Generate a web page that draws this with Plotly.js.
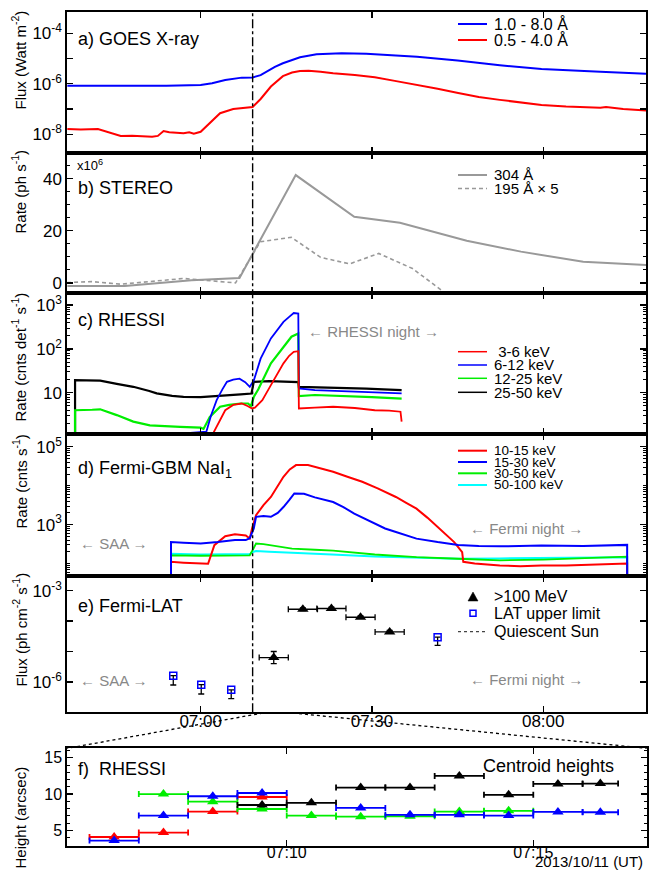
<!DOCTYPE html>
<html><head><meta charset="utf-8">
<script src="https://cdn.plot.ly/plotly-3.0.1.min.js"></script>
<style>html,body{margin:0;padding:0;background:#fff}#chart{width:650px;height:871px}</style>
</head><body><div id="chart"></div><script>
// ===== DATA (time = minutes after 07:00 UT, 2013/10/11) =====
// a) GOES X-ray
const tGoesLong = [-23.4,-18,-12,-6,-2,0,2,4.3,7.2,9.1,10.5,11.5,13,14.4,16,17.4,20.3,24.7,29,33,37.9,45,52.4,59.7,65,68.4,70,74,78];
const fGoesLong = [8.3e-7,8.1e-7,8.3e-7,8.3e-7,8.5e-7,8.9e-7,1.05e-6,1.4e-6,1.75e-6,1.78e-6,2.2e-6,3.0e-6,4.7e-6,6.5e-6,8.9e-6,1.12e-5,1.48e-5,1.62e-5,1.55e-5,1.38e-5,1.17e-5,8.3e-6,5.4e-6,3.8e-6,3.4e-6,3.3e-6,3.0e-6,2.7e-6,2.5e-6];
const tGoesShort = [-23.4,-21,-18,-17,-15.5,-14,-12,-10.5,-8.5,-7.5,-6.5,-5.5,-4,-3,-2,-1.2,0,1.6,3.4,5.7,7.5,9.1,10.5,12.3,14.4,16,17.4,18.9,21,23.2,27,30.5,34,37.9,41.5,45.1,48.7,52.4,56,59.7,64,68.4,70,71,74,78];
const fGoesShort = [1.6e-8,1.55e-8,1.6e-8,1.35e-8,1.05e-8,8.6e-9,8.8e-9,8.6e-9,8.0e-9,8.6e-9,1.35e-8,1.2e-8,1.15e-8,1.1e-8,1.2e-8,1.05e-8,1.25e-8,2.7e-8,6.8e-8,1.0e-7,1.12e-7,1.2e-7,2.5e-7,7.8e-7,2.0e-6,2.8e-6,3.2e-6,3.3e-6,3.0e-6,2.6e-6,2.2e-6,1.8e-6,1.3e-6,9.1e-7,6.3e-7,4.3e-7,3.0e-7,2.3e-7,1.8e-7,1.45e-7,1.26e-7,1.2e-7,1.12e-7,1.2e-7,1.0e-7,8.8e-8];

// b) STEREO (units of 1e6 ph/s)
const tS304 = [-23.4,-13.3,-1.6,6.8,16.65,26.9,34.9,46.6,56.1,67,78.7];
const rS304 = [-1.2,-1.2,1.0,1.9,41.4,25.4,23.1,16.2,12.0,8.1,6.8];
const tS195 = [-23.4,-19.1,-14,-3,6.1,10.45,15.9,21,26.1,31.2,37.1,42.9,48];
const rS195 = [0.1,0.5,-0.5,1.7,0.0,15.8,17.5,9.8,7.3,11.3,5.5,-4.0,-9];

// c) RHESSI (cnts/det/s)
const tRh2550 = [-22,-22,-20,-17.6,-14.7,-11.8,-9,-7.7,-5,-3,0,2.2,5,7,8.9,9.3,12,15,17.1,17.2,20,23,26,29,32,35.2];
const rRh2550 = [1.0,19.5,19.2,19.0,16,13.7,11,9.7,8.5,8.1,8.0,8.3,8.6,9.2,9.6,17.8,18.5,18,17.5,13.7,13.5,13.2,13,12.5,12,11.5];
const tRh1225 = [-22,-22,-19,-17.6,-14.7,-11.8,-8.9,-6,-3.6,0,0.5,1.6,3.4,5,7,8.3,8.8,9.3,10.1,12.3,14.5,15.9,17.1,17.2,20,25,30,35.2];
const rRh1225 = [0.5,4.0,4.1,4.2,3.1,2.2,1.8,1.7,1.67,1.6,1.5,2.8,4.8,5.3,5.7,5.7,5.0,8.0,12,47,112,190,225,8.4,8.9,8.5,8.0,7.4];
const tRh612 = [-20.6,-20.2,-19.8,1.0,1.8,2.8,3.8,4.6,5.7,6.8,7.8,8.6,9.3,10.5,12.3,13.5,14.5,15.5,16.3,17.1,17.2,20,25,30,35.2];
const rRh612 = [0.8,1.25,0.8,1.3,3.0,6.8,12,17.8,20,21,17.5,13.7,19,60,174,290,415,540,660,640,12.6,11.5,11,10.3,9.7];
const tRh36 = [1.5,2.2,3.4,4.3,5.7,7.2,8.2,9.0,9.5,10.8,12.3,13.5,14.5,15.5,16.3,17.1,17.2,20,23.2,27,30.5,33,35.0,35.2];
const rRh36 = [0.8,1.2,2.4,4.0,5.3,5.7,5.0,4.4,4.6,6.8,15,28,47,70,86,89,4.4,4.6,4.8,4.5,4.0,3.9,3.7,2.2];

// d) Fermi-GBM NaI1 (cnts/s)
const tGbm1015 = [-5.2,-5.2,-3,0,1.3,2.4,4.3,6,7.9,8.6,9.0,9.7,11,12.3,13.5,14.5,15.6,16.7,18.8,21,23.2,25.7,28.3,31,34.2,36,37.8,39.7,41.5,43,44.4,45.8,46.0,48,52.4,56,59.7,64,68,72,74.7,74.7];
const rGbm1015 = [25,110,105,100,98,295,500,560,525,440,790,1740,3160,5130,10000,17000,26300,33900,33900,28200,22900,17000,12600,8510,5130,3630,2570,1510,870,550,355,195,110,100,89,85,89,89,93,95,100,25];
const tGbm1530 = [-5.2,-5.2,-3,0,3,6,7.9,8.6,9.3,9.7,11,12.3,13.5,14.5,15.5,16.4,18.1,20,23.2,25,26.9,28.7,30.5,32.3,34.2,37.8,41.5,45.1,48.7,52.4,59.7,67,74.7,74.7];
const rGbm1530 = [25,355,340,325,355,400,400,445,795,1585,1660,1585,1995,2820,4270,6310,6170,5010,3800,2820,1905,1410,1070,795,645,435,355,300,280,275,290,280,300,25];
const tGbm3050 = [-5.2,-5.2,0,5,8.6,9.3,9.7,11,12.3,16,20,23.2,30.5,37.8,45.1,52.4,60,67,74.7,74.7];
const rGbm3050 = [25,162,158,162,162,250,325,315,295,240,225,215,170,145,132,120,126,138,150,25];
const tGbm50100 = [-5.2,-5.2,0,5,8.6,9.3,9.7,12,16,23,30.5,37.8,45.1,52.4,59.7,67,74.7,74.7];
const rGbm50100 = [25,178,170,174,174,200,209,200,186,170,151,141,132,135,138,141,145,25];

// e) Fermi-LAT (ph/cm2/s)
const tLat = [12.8,17.9,22.9,28.0,33.1];
const fLat = [6.3e-6,2.45e-4,2.6e-4,1.34e-4,4.4e-5];
const dtLat = [2.55,2.55,2.55,2.55,2.55];
const errUpLat = [3.7e-6,2.5e-5,2.7e-5,1.4e-5,5e-6];
const errDnLat = [2.3e-6,2.2e-5,2.4e-5,1.2e-5,4e-6];
const tUL = [-4.8,0.1,5.35,41.5];
const fUL = [1.6e-6,8.1e-7,5.5e-7,2.95e-5];
const dropUL = [8.1e-7,4.1e-7,2.7e-7,1.37e-5];
const quietSun = 4.7e-7;

// f) RHESSI centroid heights (arcsec); time = minutes after 07:00
const fRedT = [6.5,7.5,8.5,9.5];            const fRedH = [4.1,4.7,7.6,9.6];     const fRedDt = [0.5,0.5,0.5,0.5];
const fBlueT = [6.5,7.5,8.5,9.5,11.5,12.5,13.5,14.5,15.5,16.36];
const fBlueH = [3.6,7.05,9.7,10.15,8.1,7.15,7.15,7.05,7.55,7.5];
const fBlueDt = [0.5,0.5,0.5,0.5,0.5,0.5,0.5,0.5,0.5,0.36];
const fGreenT = [7.5,8.5,9.5,10.5,11.5,12.5,13.5,14.5];
const fGreenH = [10.0,8.95,7.95,7.05,6.9,6.95,7.6,7.7];
const fGreenDt = [0.5,0.5,0.5,0.5,0.5,0.5,0.5,0.5];
const fBlackT = [9.5,10.5,11.5,12.5,13.5,14.5,15.5,16.36];
const fBlackH = [8.5,8.8,10.9,10.9,12.5,9.9,11.4,11.45];
const fBlackDt = [0.5,0.5,0.5,0.5,0.5,0.5,0.5,0.36];

const markTime = 9.1;   // dash-dot reference time
const mainTicks = [0,30,60], mainTickText = ['07:00','07:30','08:00'];
const fTicks = [10,15], fTickText = ['07:10','07:15'];

// ===== LAYOUT HELPERS (pixel -> paper) =====
const W = 650, H = 871;
const P = x => x / W, Q = y => 1 - y / H;
const FONT = 'Liberation Sans, Arial, Helvetica, sans-serif';
const xr = [-23.36, 78.0];

function minorLog(lo, hi) { const v = []; for (let k = lo; k <= hi; k++) for (let m = 2; m <= 9; m++) v.push(m * Math.pow(10, k)); return v; }

const base = {showline:true, linewidth:2, linecolor:'#000', mirror:'allticks', ticks:'inside', ticklen:6, tickwidth:1.3, tickcolor:'#000', showgrid:false, zeroline:false, tickfont:{size:17, color:'#000'}, fixedrange:true};
function xa(dom, anchor, labels) {
  const o = Object.assign({}, base, {domain:dom, anchor:anchor, range:xr, tickmode:'array', tickvals:mainTicks, ticktext:mainTickText, showticklabels:labels});
  if (labels) o.ticklabelstandoff = -8;
  return o;
}
const xDom = [P(67.3), P(646)];
const decadeMinor = vals => ({ticks:'inside', ticklen:6, tickwidth:1.3, tickcolor:'#000', tickmode:'array', tickvals:vals, showgrid:false});

const traces = [];
function line(x, y, xa_, ya_, color, width, dash) {
  traces.push({x:x, y:y, xaxis:xa_, yaxis:ya_, type:'scatter', mode:'lines', line:{color:color, width:width, dash:dash||'solid'}, hoverinfo:'skip', showlegend:false});
}
// a
line(tGoesLong, fGoesLong, 'x', 'y', '#0000ff', 2);
line(tGoesShort, fGoesShort, 'x', 'y', '#ff0000', 2);
// b
line(tS304, rS304, 'x2', 'y2', '#999999', 2);
line(tS195, rS195, 'x2', 'y2', '#999999', 1.6, '4px,3px');
// c
line(tRh2550, rRh2550, 'x3', 'y3', '#000000', 2.2);
line(tRh1225, rRh1225, 'x3', 'y3', '#00ee00', 2.2);
line(tRh612, rRh612, 'x3', 'y3', '#0000ff', 1.8);
line(tRh36, rRh36, 'x3', 'y3', '#ff0000', 1.8);
// d
line(tGbm50100, rGbm50100, 'x4', 'y4', '#00ffff', 2);
line(tGbm3050, rGbm3050, 'x4', 'y4', '#00ee00', 1.8);
line(tGbm1015, rGbm1015, 'x4', 'y4', '#ff0000', 2);
line(tGbm1530, rGbm1530, 'x4', 'y4', '#0000ff', 2);
// e
traces.push({x:tLat, y:fLat, xaxis:'x5', yaxis:'y5', type:'scatter', mode:'markers', showlegend:false, hoverinfo:'skip',
  marker:{symbol:'triangle-up', size:10, color:'#000'},
  error_x:{type:'data', array:dtLat, color:'#000', thickness:1.3, width:3},
  error_y:{type:'data', symmetric:false, array:errUpLat, arrayminus:errDnLat, color:'#000', thickness:1.3, width:3}});
traces.push({x:tUL, y:fUL, xaxis:'x5', yaxis:'y5', type:'scatter', mode:'markers', showlegend:false, hoverinfo:'skip',
  marker:{symbol:'square-open', size:7, color:'#0000ff', line:{width:1.5, color:'#0000ff'}},
  error_y:{type:'data', symmetric:false, array:fUL.map(()=>0), arrayminus:dropUL, color:'#000', thickness:1.3, width:3}});
// f
function fTrace(t, h, dt, color) {
  traces.push({x:t, y:h, xaxis:'x6', yaxis:'y6', type:'scatter', mode:'markers', showlegend:false, hoverinfo:'skip',
    marker:{symbol:'triangle-up', size:10, color:color},
    error_x:{type:'data', array:dt, color:color, thickness:1.8, width:3}});
}
fTrace(fRedT, fRedH, fRedDt, '#ff0000');
fTrace(fGreenT, fGreenH, fGreenDt, '#00ee00');
fTrace(fBlackT, fBlackH, fBlackDt, '#000000');
fTrace(fBlueT, fBlueH, fBlueDt, '#0000ff');

const sup = s => '<sup>' + s + '</sup>';
const layout = {
  width:W, height:H, margin:{l:0, r:0, t:0, b:0}, paper_bgcolor:'#fff', plot_bgcolor:'#fff',
  font:{family:FONT, size:17, color:'#000'}, showlegend:false,
  xaxis: xa(xDom, 'y', false),
  xaxis2: xa(xDom, 'y2', false),
  xaxis3: xa(xDom, 'y3', false),
  xaxis4: xa(xDom, 'y4', false),
  xaxis5: xa(xDom, 'y5', true),
  xaxis6: Object.assign({}, base, {domain:[P(67.3), P(646.7)], anchor:'y6', range:[5.55, 17.3], tickmode:'array', tickvals:fTicks, ticktext:fTickText, tickfont:{size:16}, ticklabelstandoff:-9}),
  yaxis: Object.assign({}, base, {domain:[Q(152.7), Q(12.3)], anchor:'x', type:'log', range:[-8.73, -3.17], tickmode:'array',
    tickvals:[1e-8,1e-6,1e-4], ticktext:['10'+sup('-8'),'10'+sup('-6'),'10'+sup('-4')], minor:decadeMinor([1e-7,1e-5])}),
  yaxis2: Object.assign({}, base, {domain:[Q(293.3), Q(152.7)], anchor:'x2', range:[-4, 50], tickmode:'array', tickvals:[0,20,40],
    minor:{ticks:'inside', ticklen:3, tickwidth:1, tickcolor:'#000', dtick:5, showgrid:false}}),
  yaxis3: Object.assign({}, base, {domain:[Q(434), Q(293.3)], anchor:'x3', type:'log', range:[0.06, 3.27], tickmode:'array',
    tickvals:[10,100,1000], ticktext:['10','10'+sup('2'),'10'+sup('3')],
    minor:{ticks:'inside', ticklen:3, tickwidth:1, tickcolor:'#000', tickmode:'array', tickvals:minorLog(0,3), showgrid:false}}),
  yaxis4: Object.assign({}, base, {domain:[Q(575.5), Q(434)], anchor:'x4', type:'log', range:[1.69, 5.33], tickmode:'array',
    tickvals:[1000,100000], ticktext:['10'+sup('3'),'10'+sup('5')],
    minor:{ticks:'inside', ticklen:3, tickwidth:1, tickcolor:'#000', tickmode:'array', tickvals:minorLog(1,5).concat([100,10000]), showgrid:false}}),
  yaxis5: Object.assign({}, base, {domain:[Q(712.3), Q(575.5)], anchor:'x5', type:'log', range:[-7, -2.5], tickmode:'array',
    tickvals:[1e-6,1e-3], ticktext:['10'+sup('-6'),'10'+sup('-3')], minor:decadeMinor([1e-5,1e-4])}),
  yaxis6: Object.assign({}, base, {domain:[Q(845.7), Q(748.3)], anchor:'x6', range:[2.9, 16.3], tickmode:'array', tickvals:[5,10,15], tickfont:{size:16},
    minor:{ticks:'inside', ticklen:3, tickwidth:1, tickcolor:'#000', dtick:1, showgrid:false}}),
  shapes: [], annotations: []
};

const S = layout.shapes, A = layout.annotations;
// dash-dot flare marker across panels a-e
S.push({type:'line', xref:'x', yref:'paper', x0:markTime, x1:markTime, y0:Q(712.3), y1:Q(12.3), line:{color:'#000', width:1.4, dash:'dashdot'}});
// quiescent sun level
S.push({type:'line', xref:'x5 domain', yref:'y5', x0:0, x1:1, y0:Math.log10(quietSun), y1:Math.log10(quietSun), line:{color:'#444', width:1.3, dash:'dot'}});
// zoom connectors
S.push({type:'line', xref:'paper', yref:'paper', x0:P(263), y0:Q(713), x1:P(67.3), y1:Q(748.3), line:{color:'#000', width:1.3, dash:'dot'}});
S.push({type:'line', xref:'paper', yref:'paper', x0:P(293), y0:Q(713), x1:P(646.7), y1:Q(748.3), line:{color:'#000', width:1.3, dash:'dot'}});

function legLine(y, color, width, dash) { S.push({type:'line', xref:'paper', yref:'paper', x0:P(458), x1:P(487), y0:Q(y), y1:Q(y), line:{color:color, width:width, dash:dash||'solid'}}); }
function txt(x, y, text, opt) {
  A.push(Object.assign({xref:'paper', yref:'paper', x:P(x), y:Q(y), text:text, showarrow:false, xanchor:'left', yanchor:'middle', font:{size:16, color:'#000'}}, opt||{}));
}
const f15 = {font:{size:15}}, f14 = {font:{size:13.5}};
// legends
legLine(24, '#0000ff', 2); txt(492, 24, '1.0 - 8.0 Å');
legLine(40, '#ff0000', 2); txt(492, 40, '0.5 - 4.0 Å');
legLine(175, '#999999', 2); txt(492, 175, '304 Å', f15);
legLine(188.5, '#999999', 1.6, '4px,3px'); txt(492, 188.5, '195 Å × 5', f15);
legLine(351.7, '#ff0000', 1.5); txt(492, 351.7, ' 3-6 keV', f15);
legLine(365, '#0000ff', 1.5); txt(492, 365, '6-12 keV', f15);
legLine(378.3, '#00ee00', 1.5); txt(492, 378.3, '12-25 keV', f15);
legLine(392.3, '#000000', 1.5); txt(492, 392.3, '25-50 keV', f15);
legLine(450.7, '#ff0000', 2); txt(492, 450.7, '10-15 keV', f14);
legLine(462, '#0000ff', 2); txt(492, 462, '15-30 keV', f14);
legLine(473.3, '#00ee00', 2); txt(492, 473.3, '30-50 keV', f14);
legLine(485, '#00ffff', 2); txt(492, 485, '50-100 keV', f14);
S.push({type:'path', xref:'paper', yref:'paper', path:`M${P(468)},${Q(601)} L${P(478)},${Q(601)} L${P(473)},${Q(592)} Z`, fillcolor:'#000', line:{color:'#000', width:0.5}});
txt(492, 596.7, '>100 MeV');
S.push({type:'rect', xref:'paper', yref:'paper', x0:P(470), x1:P(476), y0:Q(616.3), y1:Q(610.3), line:{color:'#0000ff', width:1.5}});
txt(492, 613.3, 'LAT upper limit');
legLine(631.7, '#444', 1.3, 'dot'); txt(492, 631.7, 'Quiescent Sun');

// panel labels
txt(76, 39, 'a) GOES X-ray', {font:{size:18}});
txt(75, 165, 'x10' + sup('6'), {font:{size:13}});
txt(76, 188, 'b) STEREO', {font:{size:18}});
txt(76, 320, 'c) RHESSI', {font:{size:18}});
txt(76, 470, 'd) Fermi-GBM NaI<sub>1</sub>', {font:{size:18}});
txt(76, 606, 'e) Fermi-LAT', {font:{size:18}});
txt(76, 769, 'f)  RHESSI', {font:{size:18}});
txt(616, 766, 'Centroid heights', {font:{size:18}, xanchor:'right'});
// grey annotations
const grey = {size:15, color:'#888'};
txt(373, 331, '← RHESSI night →', {font:grey, xanchor:'center'});
txt(114, 543, '← SAA →', {font:grey, xanchor:'center'});
txt(526, 528, '← Fermi night →', {font:grey, xanchor:'center'});
txt(114, 680, '← SAA →', {font:grey, xanchor:'center'});
txt(526, 679, '← Fermi night →', {font:grey, xanchor:'center'});
txt(645, 861.5, '2013/10/11 (UT)', {font:{size:15}, xanchor:'right'});
// axis titles
function ytitle(y, text) { txt(19.5, y, text, {textangle:-90, xanchor:'center', font:{size:15}}); }
ytitle(60, 'Flux (Watt m' + sup('-2') + ')');
ytitle(192, 'Rate (ph s' + sup('-1') + ')');
ytitle(357, 'Rate (cnts det' + sup('-1') + ' s' + sup('-1') + ')');
ytitle(482, 'Rate (cnts s' + sup('-1') + ')');
ytitle(630, 'Flux (ph cm' + sup('-2') + ' s' + sup('-1') + ')');
ytitle(818, 'Height (arcsec)');

Plotly.newPlot('chart', traces, layout, {displayModeBar:false, staticPlot:true});
</script></body></html>
